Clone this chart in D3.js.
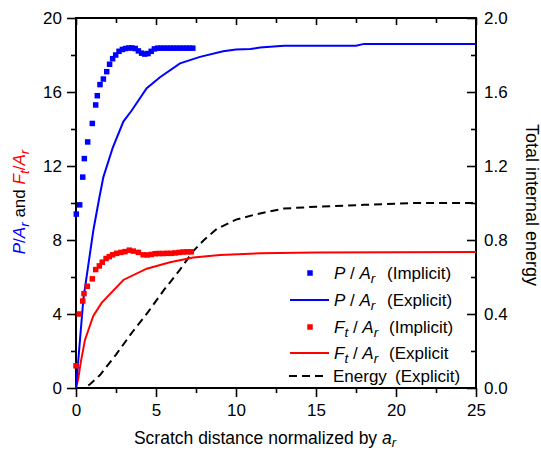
<!DOCTYPE html>
<html lang="en">
<head>
<meta charset="UTF-8">
<title>Scratch force and energy</title>
<script src="https://cdn.jsdelivr.net/npm/d3@7"></script>
<style>
  body { margin: 0; background: #fff; }
  svg text { font-family: "Liberation Sans", Arial, Helvetica, sans-serif; white-space: pre; }
  .axis path { display: none; }
  .axis line { stroke: #000; stroke-width: 1.6px; }
  .axis text { font-size: 17px; fill: #000; }
</style>
</head>
<body>
<svg id="chart" width="541" height="452"></svg>
<script>
// --- data ---
var pImpX = [0.02,0.23,0.42,0.52,0.73,1.02,1.23,1.33,1.5,1.71,1.92,2.1,2.29,2.48,2.69,2.9,3.1,3.3,3.5,3.7,3.9,4.1,4.3,4.5,4.7,4.9,5.1,5.3,5.5,5.7,5.9,6.1,6.3,6.5,6.7,6.9,7.1,7.3];
var pImpY = [9.4,9.9,11.4,12.4,13.3,14.3,15.3,15.8,16.4,16.7,17.1,17.5,17.8,18.0,18.2,18.3,18.35,18.38,18.38,18.35,18.22,18.1,18.05,18.08,18.2,18.33,18.37,18.37,18.37,18.37,18.37,18.37,18.37,18.37,18.37,18.37,18.37,18.37];

var pExpX = [0,0.46,1.08,1.46,1.71,2.3,2.96,3.48,4.42,5.25,6.5,7.75,9.2,10,10.9,11.5,13,17.5,18,25];
var pExpY = [0,4.8,8.5,10.3,11.4,13.0,14.4,15.0,16.2,16.8,17.55,17.9,18.2,18.3,18.32,18.4,18.5,18.5,18.6,18.6];

var fImpX = [0.0,0.2,0.42,0.5,0.71,1.02,1.23,1.46,1.64,1.88,2.08,2.29,2.54,2.81,3.06,3.33,3.58,3.9,4.2,4.46,4.7,4.95,5.2,5.45,5.7,5.95,6.2,6.45,6.7,6.95,7.2];
var fImpY = [1.2,4.0,4.7,5.1,5.5,5.9,6.4,6.6,6.8,7.0,7.1,7.2,7.28,7.33,7.37,7.45,7.4,7.33,7.2,7.19,7.22,7.26,7.27,7.27,7.28,7.28,7.3,7.33,7.35,7.36,7.36];

var fExpX = [0,0.14,0.3,0.56,1.08,1.6,2.96,4.42,5.875,7.33,9,11.5,15,25];
var fExpY = [0,0.5,1.4,2.6,3.9,4.6,5.84,6.45,6.8,7.05,7.19,7.28,7.32,7.35];

var eX = [0,0.5,0.875,1.5,2.5,3.5,4.5,5.5,6.5,7.33,8,8.8,10,11.3,13,15,18,21,25];
var eY = [0,0.0,0.02,0.07,0.18,0.3,0.41,0.53,0.64,0.74,0.8,0.86,0.91,0.94,0.97,0.98,0.99,1.0,1.0];

var xMajor = [0,5,10,15,20,25], xMinor = [2.5,7.5,12.5,17.5,22.5];
var yMajor = [0,4,8,12,16,20], yMinor = [2,6,10,14,18];
var eMajor = [0,0.4,0.8,1.2,1.6,2.0], eMinor = [0.2,0.6,1.0,1.4,1.8];

var blue = "#0000ff", red = "#ff0000";

var svg = d3.select("#chart");
var L = 76, R = 476, T = 18, B = 388;

var x = d3.scaleLinear().domain([0, 25]).range([L, R]);
var y = d3.scaleLinear().domain([0, 20]).range([B, T]);
var yE = d3.scaleLinear().domain([0, 2]).range([B, T]);

// axes: bottom / left outward, top / right inward
function addAxis(gen, tx, ty) {
  return svg.append("g").attr("class", "axis").attr("transform", "translate(" + tx + "," + ty + ")").call(gen);
}
addAxis(d3.axisBottom(x).tickValues(xMajor).tickSize(9).tickSizeOuter(0).tickPadding(7).tickFormat(d3.format("d")), 0, B);
addAxis(d3.axisBottom(x).tickValues(xMinor).tickSize(5).tickSizeOuter(0).tickFormat(""), 0, B);
addAxis(d3.axisBottom(x).tickValues(xMajor).tickSize(7).tickSizeOuter(0).tickFormat(""), 0, T);
addAxis(d3.axisBottom(x).tickValues(xMinor).tickSize(5).tickSizeOuter(0).tickFormat(""), 0, T);
addAxis(d3.axisLeft(y).tickValues(yMajor).tickSize(9).tickSizeOuter(0).tickPadding(5).tickFormat(d3.format("d")), L, 0);
addAxis(d3.axisLeft(y).tickValues(yMinor).tickSize(5).tickSizeOuter(0).tickFormat(""), L, 0);
addAxis(d3.axisRight(yE).tickValues(eMajor).tickSizeInner(-9).tickSizeOuter(0).tickPadding(8).tickFormat(d3.format(".1f")), R, 0);
addAxis(d3.axisRight(yE).tickValues(eMinor).tickSizeInner(-5).tickSizeOuter(0).tickFormat(""), R, 0);

svg.append("rect")
  .attr("x", L).attr("y", T).attr("width", R - L).attr("height", B - T)
  .attr("fill", "none").attr("stroke", "#000").attr("stroke-width", 2);

// lines
var lineP = d3.line().x(function(d) { return x(d[0]); }).y(function(d) { return y(d[1]); });
var lineE = d3.line().x(function(d) { return x(d[0]); }).y(function(d) { return yE(d[1]); });

svg.append("path").datum(d3.zip(eX, eY)).attr("d", lineE)
  .attr("fill", "none").attr("stroke", "#000").attr("stroke-width", 2).attr("stroke-dasharray", "8,5");
svg.append("path").datum(d3.zip(fExpX, fExpY)).attr("d", lineP)
  .attr("fill", "none").attr("stroke", red).attr("stroke-width", 2);
svg.append("path").datum(d3.zip(pExpX, pExpY)).attr("d", lineP)
  .attr("fill", "none").attr("stroke", blue).attr("stroke-width", 2);

var sq = 5.5;
svg.append("g").selectAll("rect").data(d3.zip(fImpX, fImpY)).join("rect")
  .attr("x", function(d) { return x(d[0]) - sq / 2; })
  .attr("y", function(d) { return y(d[1]) - sq / 2; })
  .attr("width", sq).attr("height", sq).attr("fill", red);
svg.append("g").selectAll("rect").data(d3.zip(pImpX, pImpY)).join("rect")
  .attr("x", function(d) { return x(d[0]) - sq / 2; })
  .attr("y", function(d) { return y(d[1]) - sq / 2; })
  .attr("width", sq).attr("height", sq).attr("fill", blue);

// ratio label made of tspans: letter, sub, "/", letter, sub
function ratio(t, num, numSub, color, fs) {
  var sub = fs * 0.8;
  t.append("tspan").attr("font-style", "italic").attr("fill", color).text(num);
  if (numSub) {
    t.append("tspan").attr("font-style", "italic").attr("fill", color).attr("font-size", sub).attr("dy", 4).text(numSub);
    t.append("tspan").attr("fill", color).attr("dy", -4).text(" / ");
  } else {
    t.append("tspan").attr("fill", color).text(" / ");
  }
  t.append("tspan").attr("font-style", "italic").attr("fill", color).text("A");
  t.append("tspan").attr("font-style", "italic").attr("fill", color).attr("font-size", sub).attr("dy", 4).text("r");
  t.append("tspan").attr("dy", -4).text("");
}

// legend
var legend = [
  {kind: "sq", color: blue, num: "P", sub: null, tag: "(Implicit)"},
  {kind: "line", color: blue, num: "P", sub: null, tag: "(Explicit)"},
  {kind: "sq", color: red, num: "F", sub: "t", tag: "(Implicit)"},
  {kind: "line", color: red, num: "F", sub: "t", tag: "(Explicit"},
  {kind: "dash", color: "#000", num: null, sub: null, tag: "(Explicit)"}
];
var legY = [273, 300, 327, 353, 376];
var lfs = 17;
legend.forEach(function(d, i) {
  var cy = legY[i];
  if (d.kind === "sq") {
    svg.append("rect").attr("x", 310 - sq / 2).attr("y", cy - sq / 2).attr("width", sq).attr("height", sq).attr("fill", d.color);
  } else {
    svg.append("line").attr("x1", d.kind === "dash" ? 289 : 290).attr("x2", d.kind === "dash" ? 326 : 329)
      .attr("y1", cy).attr("y2", cy).attr("stroke", d.color).attr("stroke-width", 2)
      .attr("stroke-dasharray", d.kind === "dash" ? "8,5" : null);
  }
  var t = svg.append("text").attr("x", d.kind === "dash" ? 333 : 334).attr("y", cy + 6).attr("font-size", lfs).attr("fill", "#000");
  if (d.num) {
    ratio(t, d.num, d.sub, "#000", lfs);
    svg.append("text").attr("x", d.sub ? 389 : 387).attr("y", cy + 6).attr("font-size", lfs).text(d.tag);
  } else {
    t.text("Energy");
    svg.append("text").attr("x", 395).attr("y", cy + 6).attr("font-size", lfs).text(d.tag);
  }
});

// axis titles
var yt = svg.append("text").attr("transform", "translate(25,202) rotate(-90)")
  .attr("text-anchor", "middle").attr("font-size", 17).attr("fill", "#000");
var sb = 13.5;
yt.append("tspan").attr("font-style", "italic").attr("fill", blue).text("P");
yt.append("tspan").attr("fill", blue).text("/");
yt.append("tspan").attr("font-style", "italic").attr("fill", blue).text("A");
yt.append("tspan").attr("font-style", "italic").attr("fill", blue).attr("font-size", sb).attr("dy", 4).text("r");
yt.append("tspan").attr("dy", -4).text(" and ");
yt.append("tspan").attr("font-style", "italic").attr("fill", red).text("F");
yt.append("tspan").attr("font-style", "italic").attr("fill", red).attr("font-size", sb).attr("dy", 4).text("t");
yt.append("tspan").attr("fill", red).attr("dy", -4).text("/");
yt.append("tspan").attr("font-style", "italic").attr("fill", red).text("A");
yt.append("tspan").attr("font-style", "italic").attr("fill", red).attr("font-size", sb).attr("dy", 4).text("r");

svg.append("text").attr("transform", "translate(526,205) rotate(90)")
  .attr("text-anchor", "middle").attr("font-size", 18).text("Total internal energy");

var xt = svg.append("text").attr("x", 265).attr("y", 444).attr("text-anchor", "middle").attr("font-size", 17.5);
xt.append("tspan").text("Scratch distance normalized by ");
xt.append("tspan").attr("font-style", "italic").text("a");
xt.append("tspan").attr("font-style", "italic").attr("font-size", 13).attr("dy", 3).text("r");
</script>
</body>
</html>
